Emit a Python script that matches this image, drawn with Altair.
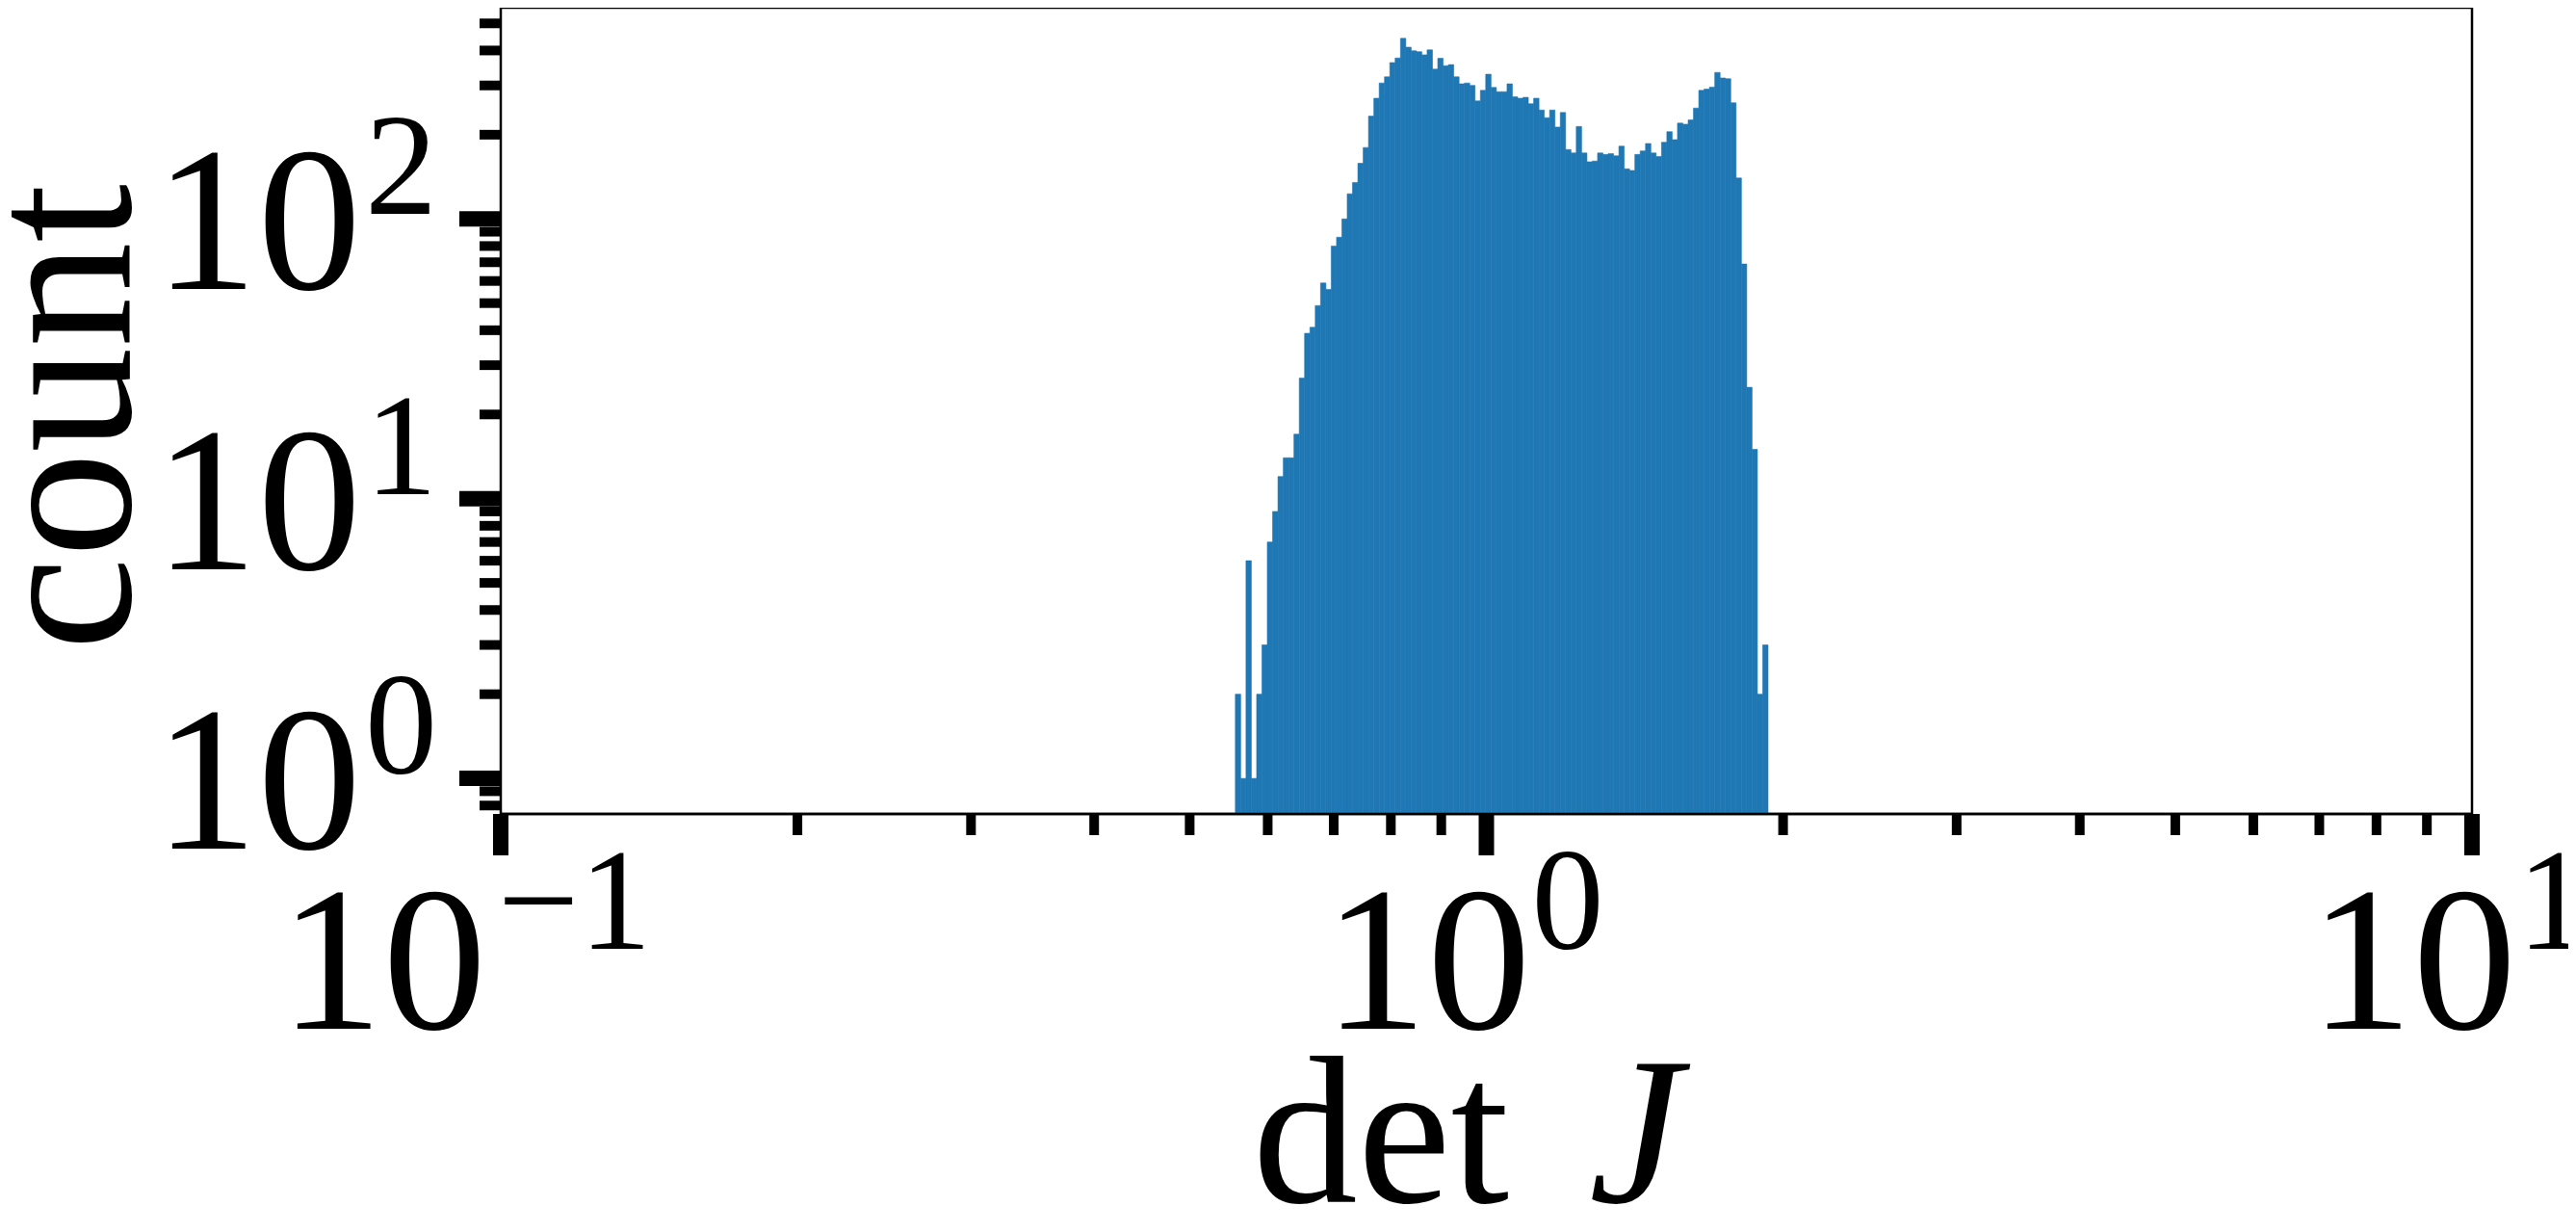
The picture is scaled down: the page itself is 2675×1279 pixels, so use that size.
import altair as alt
import numpy as np
import pandas as pd

# histogram counts (100 log-spaced bins)
counts = [2, 1, 6, 1, 2, 3, 7, 9, 12, 14,
          14, 17, 27, 39, 41, 49, 59, 56, 80, 86,
          100, 123, 135, 158, 180, 233, 270, 306, 322, 362,
          376, 442, 411, 399, 396, 386, 402, 343, 375, 353,
          356, 322, 304, 306, 300, 264, 288, 329, 295, 285,
          285, 304, 273, 270, 272, 258, 270, 245, 230, 245,
          213, 240, 177, 172, 214, 172, 160, 161, 172, 170,
          171, 168, 182, 151, 149, 170, 175, 186, 172, 167,
          188, 205, 192, 220, 218, 226, 249, 288, 291, 296,
          334, 319, 317, 260, 140, 69, 25, 15, 2, 3]
bin_lo = 0.5563
bin_hi = 1.931

x_major = [0.1, 1, 10]
x_exp = ["\u22121", "0", "1"]
x_minor = [0.2, 0.3, 0.4, 0.5, 0.6, 0.7, 0.8, 0.9, 2, 3, 4, 5, 6, 7, 8, 9]
y_major = [1, 10, 100]
y_exp = ["0", "1", "2"]
y_minor = [0.8, 0.9, 2, 3, 4, 5, 6, 7, 8, 9, 20, 30, 40, 50, 60, 70, 80, 90,
           200, 300, 400, 500]

W, H = 2047, 837
FONT = "Liberation Serif"
BASE = 215
SUP = 150
YMIN = 10 ** -0.127
YMAX = 10 ** 2.755

edges = np.logspace(np.log10(bin_lo), np.log10(bin_hi), len(counts) + 1)
bars_df = pd.DataFrame({"x0": edges[:-1], "x1": edges[1:], "count": counts})

xs = alt.Scale(type="log", domain=[0.1, 10], nice=False)
ys = alt.Scale(type="log", domain=[YMIN, YMAX], nice=False)

bars = alt.Chart(bars_df).mark_rect(
    color="#1f77b4", stroke="#1f77b4", strokeWidth=0.6
).encode(
    x=alt.X("x0:Q", scale=xs, axis=None),
    x2="x1:Q",
    y=alt.Y("count:Q", scale=ys, axis=None),
    y2=alt.datum(YMIN),
)

# bottom spine drawn above the bars
spine = alt.Chart(pd.DataFrame({"s": [0]})).mark_rule(
    color="black", strokeWidth=2.5
).encode(x=alt.value(0), x2=alt.value(W), y=alt.value(H))


def xticks(vals, length, width):
    return alt.Chart(pd.DataFrame({"v": vals})).mark_rule(
        color="black", strokeWidth=width
    ).encode(
        x=alt.X("v:Q", scale=xs, axis=None),
        y=alt.value(H),
        y2=alt.value(H + length),
    )


def yticks(vals, length, width):
    return alt.Chart(pd.DataFrame({"v": vals})).mark_rule(
        color="black", strokeWidth=width
    ).encode(
        y=alt.Y("v:Q", scale=ys, axis=None),
        x=alt.value(0),
        x2=alt.value(-length),
    )


xlab_df = pd.DataFrame({"v": x_major, "e": x_exp})
ylab_df = pd.DataFrame({"v": y_major, "e": y_exp})


def xlabels(filt, dx_base, dx_sup):
    src = alt.Chart(xlab_df).transform_filter(filt)
    base = src.mark_text(
        text="10", font=FONT, fontSize=BASE, align="right",
        baseline="alphabetic", dx=dx_base, color="black"
    ).encode(x=alt.X("v:Q", scale=xs, axis=None), y=alt.value(1060))
    sup = src.mark_text(
        font=FONT, fontSize=SUP, align="left",
        baseline="alphabetic", dx=dx_sup, color="black"
    ).encode(x=alt.X("v:Q", scale=xs, axis=None), y=alt.value(977),
             text="e:N")
    return [base, sup]


ylab_base = alt.Chart(ylab_df).mark_text(
    text="10", font=FONT, fontSize=BASE, align="right",
    baseline="alphabetic", dy=73, color="black"
).encode(y=alt.Y("v:Q", scale=ys, axis=None), x=alt.value(-145))
ylab_sup = alt.Chart(ylab_df).mark_text(
    font=FONT, fontSize=SUP, align="left",
    baseline="alphabetic", dy=-5, color="black"
).encode(y=alt.Y("v:Q", scale=ys, axis=None), x=alt.value(-141),
         text="e:N")

TY = 1240
title_det = alt.Chart(pd.DataFrame({"t": ["det"]})).mark_text(
    font=FONT, fontSize=218, align="right", baseline="alphabetic",
    color="black"
).encode(x=alt.value(1047), y=alt.value(TY), text="t:N")
title_J = alt.Chart(pd.DataFrame({"t": ["J"]})).mark_text(
    font=FONT, fontSize=218, fontStyle="italic", align="left",
    baseline="alphabetic", color="black"
).encode(x=alt.value(1130), y=alt.value(TY), text="t:N")
title_count = alt.Chart(pd.DataFrame({"t": ["count"]})).mark_text(
    font=FONT, fontSize=218, align="center", baseline="alphabetic",
    angle=270, color="black"
).encode(x=alt.value(-385), y=alt.value(425), text="t:N")

layers = [bars, spine,
          xticks(x_minor, 22, 10), xticks(x_major, 43, 16),
          yticks(y_minor, 22, 10), yticks(y_major, 43, 16)]
layers += xlabels(alt.datum.v < 0.5, -15, -3)
layers += xlabels(alt.datum.v > 0.5, 46, 47)
layers += [ylab_base, ylab_sup, title_det, title_J, title_count]

chart = alt.layer(*layers).properties(
    width=W, height=H,
    autosize=alt.AutoSizeParams(type="none"),
    padding={"left": 512, "top": 0, "right": 100, "bottom": 424},
).configure_view(stroke="black", strokeWidth=2.5)

chart.save("out.html", embed_options={"renderer": "svg", "actions": False})
